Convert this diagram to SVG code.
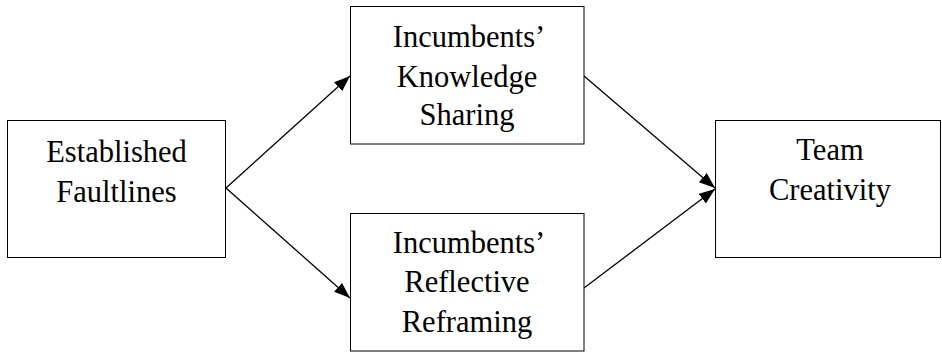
<svg xmlns="http://www.w3.org/2000/svg" width="942" height="353" viewBox="0 0 942 353">
  <style>
    .box { fill: #fff; stroke: #000; stroke-width: 1; }
    .lbl { font-family: "Liberation Serif", "Times New Roman", serif; font-size: 30.5px; fill: #000; text-anchor: middle; }
    .edge { stroke: #000; stroke-width: 1.3; fill: none; marker-end: url(#arrow); }
  </style>
  <defs>
    <marker id="arrow" markerUnits="userSpaceOnUse" markerWidth="18" markerHeight="14" refX="16" refY="6" orient="auto">
      <path d="M0,0 L16,6 L0,12 Z" fill="#000"/>
    </marker>
  </defs>
  <rect width="942" height="353" fill="#fff"/>

  <g id="connectors">
    <line class="edge" x1="226" y1="188" x2="350" y2="76"/>
    <line class="edge" x1="226" y1="188" x2="350" y2="298"/>
    <line class="edge" x1="584" y1="76" x2="715" y2="188"/>
    <line class="edge" x1="584" y1="288" x2="715" y2="189"/>
  </g>

  <g id="established-faultlines">
    <rect class="box" x="7.5" y="120.5" width="218" height="137"/>
    <text class="lbl" x="116.5" y="161.5">Established</text>
    <text class="lbl" x="116.5" y="201.5">Faultlines</text>
  </g>

  <g id="knowledge-sharing">
    <rect class="box" x="350.5" y="6.5" width="233.5" height="137.5"/>
    <text class="lbl" x="469" y="46.5">Incumbents’</text>
    <text class="lbl" x="467" y="86.5">Knowledge</text>
    <text class="lbl" x="467" y="125">Sharing</text>
  </g>

  <g id="reflective-reframing">
    <rect class="box" x="350.5" y="213.5" width="233.5" height="137.5"/>
    <text class="lbl" x="469" y="252.5">Incumbents’</text>
    <text class="lbl" x="467" y="291.5">Reflective</text>
    <text class="lbl" x="467" y="331.5">Reframing</text>
  </g>

  <g id="team-creativity">
    <rect class="box" x="715.5" y="120.5" width="225" height="137"/>
    <text class="lbl" x="830" y="160">Team</text>
    <text class="lbl" x="830" y="200">Creativity</text>
  </g>
</svg>
